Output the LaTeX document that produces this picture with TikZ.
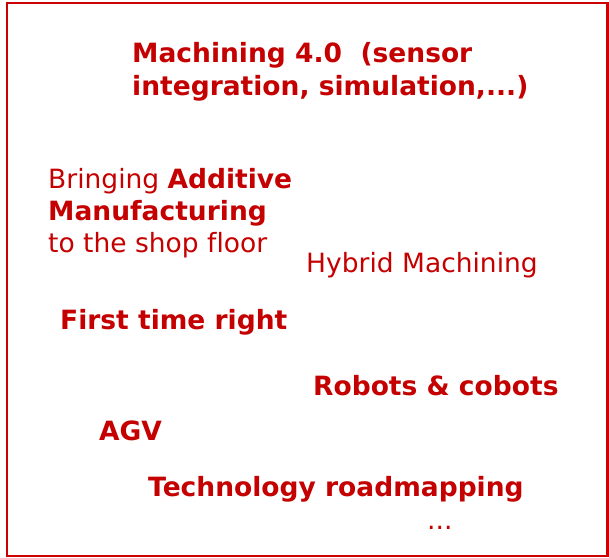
\documentclass[tikz,border=0pt]{standalone}
\usepackage{fontspec}
\setmainfont[Ligatures=NoCommon]{DejaVu Sans}
\definecolor{txtred}{RGB}{196,0,0}
\definecolor{boxred}{RGB}{204,0,0}
\tikzset{
  lbl/.style={anchor=base west, inner sep=0pt, text=txtred, font=\fontsize{26.5}{32}\selectfont},
  blbl/.style={lbl, font=\fontsize{26.5}{32}\selectfont\bfseries},
  frame/.style={draw=boxred, line width=2.8pt}
}
\begin{document}
\begin{tikzpicture}[x=1pt,y=1pt]
\useasboundingbox (0,0) rectangle (609,-557);
\draw[frame] (7,-3) rectangle (607.5,-556);
\node[blbl] (m1) at (132,-62) {Machining 4.0\ \ (sensor};
\node[blbl] (m2) at (132,-95) {integration, simulation,...)};
\node[lbl] (a1) at (48,-188) {Bringing \textbf{Additive}};
\node[blbl] (a2) at (48,-220) {Manufacturing};
\node[lbl] (a3) at (48,-252) {to the shop floor};
\node[lbl] (hy) at (306,-272) {Hybrid Machining};
\node[blbl] (ft) at (60,-329) {First time right};
\node[blbl] (rc) at (313,-395) {Robots \& cobots};
\node[blbl] (agv) at (99,-440) {AGV};
\node[blbl] (tr) at (148,-496) {Technology roadmapping};
\node[lbl] (dots) at (427,-529) {...};
\end{tikzpicture}
\end{document}
